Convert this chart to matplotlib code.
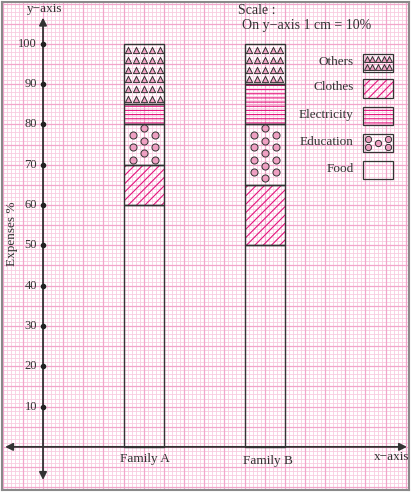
import numpy as np
import matplotlib
matplotlib.use('Agg')
from matplotlib import pyplot as plt
from matplotlib.patches import Rectangle

plt.rcParams['font.family'] = ['Liberation Serif', 'DejaVu Serif']
plt.rcParams['hatch.linewidth'] = 0.8

# данные (проценты расходов)
families = ['Family A', 'Family B']
food = [60, 50]
clothes = [10, 15]
education = [10, 15]
electricity = [5, 10]
others = [15, 10]
y_ticks = [10, 20, 30, 40, 50, 60, 70, 80, 90, 100]
legend_names = ['Others', 'Clothes', 'Electricity', 'Education', 'Food']

MAG = '#e5157f'
PINK = '#eea0c2'
DARK = '#333333'

# x in mm from y-axis, 1 mm == 1 %
bar_x = np.array([25, 55])
bar_w = 10

fig = plt.figure(figsize=(4.12, 4.92), dpi=100)
ax = fig.add_axes([1.5 / 412, 2 / 492, 407.5 / 412, 488.5 / 492])
ax.set_xlim(-10.3, 90.8)
ax.set_ylim(-10.7, 110.5)
ax.set_xticks([])
ax.set_yticks([])
for s in ax.spines.values():
    s.set_color('#8a8a8a')
    s.set_linewidth(1.5)

# миллиметровка
xs = np.arange(-10, 91)
ys = np.arange(-10, 111)
ax.vlines(xs[xs % 5 != 0], -11, 111, color='#f8cce0', lw=0.6, zorder=0)
ax.hlines(ys[ys % 5 != 0], -11, 91, color='#f8cce0', lw=0.6, zorder=0)
ax.vlines(xs[xs % 5 == 0], -11, 111, color='#f2a6cb', lw=0.9, zorder=0)
ax.hlines(ys[ys % 5 == 0], -11, 91, color='#f2a6cb', lw=0.9, zorder=0)

# оси со стрелками
ax.annotate('', xy=(0, 106.5), xytext=(0, -8.2),
            arrowprops=dict(arrowstyle='<|-|>', color=DARK, lw=1.3,
                            shrinkA=0, shrinkB=0, mutation_scale=11))
ax.annotate('', xy=(90.3, 0), xytext=(-9.4, 0),
            arrowprops=dict(arrowstyle='<|-|>', color=DARK, lw=1.3,
                            shrinkA=0, shrinkB=0, mutation_scale=11))
ax.plot(np.zeros(len(y_ticks)), y_ticks, 'o', ms=3, color='#222222', zorder=5)
for t in y_ticks:
    ax.text(-1.5, t, str(t), ha='right', va='center', fontsize=9, color=DARK)

ax.text(0.5, 108.7, 'y\u2212axis', ha='center', va='center', fontsize=9.5, color=DARK)
ax.text(91.0, -2.6, 'x\u2212axis', ha='right', va='center', fontsize=9.5, color=DARK)
ax.text(-7.7, 53, 'Expenses %', ha='center', va='center', rotation=90,
        fontsize=9.5, color=DARK)
ax.text(48.4, 108.2, 'Scale :', ha='left', va='center', fontsize=10, color=DARK)
ax.text(49.4, 104.5, 'On y\u2212axis 1 cm = 10%', ha='left', va='center',
        fontsize=10, color=DARK)


def triangles(x0, x1, y0, y1, step_y=2.45, first=1.5):
    cols = np.linspace(x0 + 1.1, x1 - 1.1, 5)
    rows = []
    y = y1 - first
    while y > y0 + 0.8:
        rows.append(y)
        y -= step_y
    px, py = np.meshgrid(cols, rows)
    ax.scatter(px.ravel(), py.ravel(), marker='^', s=20, facecolor=PINK,
               edgecolor=DARK, linewidths=0.7, zorder=4)


def circles(xc, y0, y1):
    mx, my, sx, sy = [], [], [], []
    y = y1 - 1.0
    while y > y0 + 1.0:
        mx.append(xc)
        my.append(y)
        y -= 3.1
    y = y1 - 2.6
    while y > y0 + 1.0:
        sx += [xc - 2.7, xc + 2.7]
        sy += [y, y]
        y -= 3.1
    ax.scatter(mx + sx, my + sy, marker='o', s=26, facecolor=PINK,
               edgecolor=DARK, linewidths=0.7, zorder=4)


# столбцы
segments = [('Food', food, None), ('Clothes', clothes, '////'),
            ('Education', education, None), ('Electricity', electricity, '----'),
            ('Others', others, None)]
bottom = np.zeros(2)
for name, vals, hatch in segments:
    vals = np.array(vals, dtype=float)
    if hatch:
        ax.bar(bar_x, vals, bar_w, bottom=bottom, facecolor='none',
               edgecolor=MAG, hatch=hatch, linewidth=0, zorder=2)
    ax.bar(bar_x, vals, bar_w, bottom=bottom, facecolor='none',
           edgecolor=DARK, linewidth=1.0, zorder=3)
    for i in range(2):
        if name == 'Education':
            circles(bar_x[i], bottom[i], bottom[i] + vals[i])
        elif name == 'Others':
            triangles(bar_x[i] - bar_w / 2, bar_x[i] + bar_w / 2,
                      bottom[i], bottom[i] + vals[i])
    bottom += vals

ax.text(bar_x[0] + 0.3, -3.0, families[0], ha='center', va='center', fontsize=9.5, color=DARK)
ax.text(bar_x[1] + 0.9, -3.5, families[1], ha='center', va='center', fontsize=9.5, color=DARK)

# легенда
leg_y = [95.3, 88.9, 82.0, 75.4, 68.6]
lx0, lw_, lh = 79.3, 7.6, 4.5
for name, yc in zip(legend_names, leg_y):
    ax.text(lx0 - 2.3, yc + 0.3, name, ha='right', va='center', fontsize=9.5, color=DARK)
    hatch = {'Clothes': '////', 'Electricity': '----'}.get(name)
    if hatch:
        ax.add_patch(Rectangle((lx0, yc - lh / 2), lw_, lh, facecolor='none',
                               edgecolor=MAG, hatch=hatch, linewidth=0, zorder=2))
    ax.add_patch(Rectangle((lx0, yc - lh / 2), lw_, lh, facecolor='none',
                           edgecolor=DARK, linewidth=0.9, zorder=3))
    if name == 'Others':
        px, py = np.meshgrid(np.linspace(lx0 + 1.0, lx0 + lw_ - 1.0, 5),
                             [yc + 1.0, yc - 1.1])
        ax.scatter(px.ravel(), py.ravel(), marker='^', s=18, facecolor=PINK,
                   edgecolor=DARK, linewidths=0.7, zorder=4)
    if name == 'Education':
        cx = [lx0 + 1.3, lx0 + 1.3, lx0 + lw_ / 2, lx0 + lw_ - 1.3, lx0 + lw_ - 1.3]
        cy = [yc + 1.1, yc - 1.1, yc, yc + 1.1, yc - 1.1]
        ax.scatter(cx, cy, marker='o', s=20, facecolor=PINK,
                   edgecolor=DARK, linewidths=0.7, zorder=4)

fig.savefig('out.png', dpi=100)
